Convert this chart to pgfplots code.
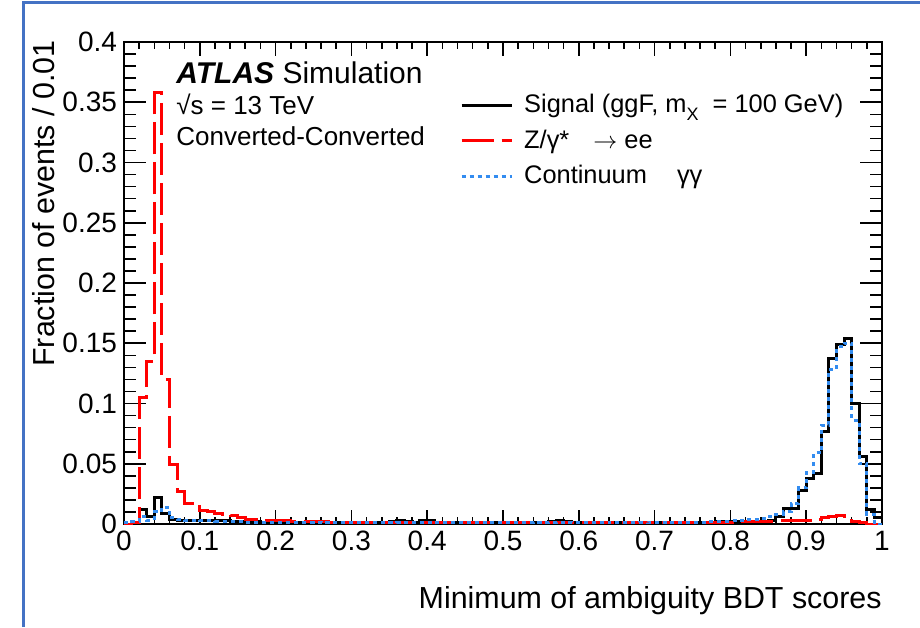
\documentclass[border=0pt]{standalone}
\usepackage{fontspec}
\setmainfont{Liberation Sans}
\usepackage{pgfplots}
\usepackage{pgfplotstable}
\pgfplotsset{compat=1.18}
\definecolor{frameblue}{RGB}{68,114,196}
\definecolor{contblue}{RGB}{51,140,240}

\pgfplotstableread{
x sig zee cont
0.00 0.000 0.000 0.001
0.01 0.001 0.001 0.002
0.02 0.012 0.105 0.006
0.03 0.006 0.135 0.003
0.04 0.022 0.358 0.010
0.05 0.009 0.120 0.014
0.06 0.004 0.049 0.005
0.07 0.003 0.027 0.004
0.08 0.003 0.017 0.003
0.09 0.003 0.017 0.003
0.10 0.003 0.011 0.0025
0.11 0.003 0.010 0.0025
0.12 0.0025 0.009 0.002
0.13 0.0025 0.008 0.002
0.14 0.002 0.007 0.002
0.15 0.002 0.005 0.002
0.16 0.002 0.004 0.0015
0.17 0.002 0.004 0.0015
0.18 0.0015 0.003 0.0015
0.19 0.0015 0.003 0.0015
0.20 0.0015 0.0025 0.0015
0.21 0.0015 0.0025 0.0012
0.22 0.0012 0.002 0.0012
0.23 0.0012 0.002 0.0012
0.24 0.0012 0.002 0.0012
0.25 0.0012 0.0018 0.0012
0.26 0.001 0.0018 0.001
0.27 0.0012 0.0016 0.001
0.28 0.001 0.0016 0.001
0.29 0.001 0.0015 0.001
0.30 0.001 0.0015 0.001
0.31 0.0012 0.0014 0.001
0.32 0.001 0.0014 0.001
0.33 0.001 0.0013 0.001
0.34 0.0012 0.0013 0.001
0.35 0.002 0.0012 0.0012
0.36 0.003 0.0012 0.0015
0.37 0.002 0.0012 0.0012
0.38 0.0015 0.0012 0.001
0.39 0.0025 0.0011 0.0012
0.40 0.0025 0.0011 0.0015
0.41 0.0015 0.0011 0.0012
0.42 0.0012 0.001 0.001
0.43 0.001 0.001 0.001
0.44 0.0012 0.001 0.001
0.45 0.001 0.001 0.0012
0.46 0.0012 0.001 0.001
0.47 0.001 0.001 0.001
0.48 0.0015 0.001 0.0012
0.49 0.001 0.001 0.001
0.50 0.0012 0.001 0.001
0.51 0.001 0.001 0.0012
0.52 0.0012 0.001 0.001
0.53 0.001 0.001 0.001
0.54 0.0012 0.001 0.0012
0.55 0.0015 0.001 0.001
0.56 0.0022 0.001 0.0012
0.57 0.0025 0.001 0.0015
0.58 0.002 0.001 0.0012
0.59 0.001 0.001 0.001
0.60 0.001 0.001 0.001
0.61 0.0008 0.001 0.001
0.62 0.0005 0.001 0.001
0.63 0.0005 0.001 0.0012
0.64 0.001 0.001 0.001
0.65 0.001 0.001 0.001
0.66 0.001 0.001 0.001
0.67 0.0012 0.001 0.001
0.68 0.001 0.001 0.0012
0.69 0.001 0.001 0.001
0.70 0.0012 0.001 0.001
0.71 0.001 0.001 0.0012
0.72 0.001 0.001 0.001
0.73 0.0012 0.001 0.0012
0.74 0.0012 0.001 0.0012
0.75 0.0012 0.001 0.0015
0.76 0.0015 0.001 0.0015
0.77 0.0015 0.0012 0.0018
0.78 0.0018 0.0012 0.002
0.79 0.002 0.0015 0.0022
0.80 0.002 0.0015 0.0025
0.81 0.002 0.0018 0.003
0.82 0.002 0.002 0.0035
0.83 0.0022 0.002 0.004
0.84 0.002 0.002 0.0045
0.85 0.003 0.0022 0.006
0.86 0.006 0.0025 0.008
0.87 0.0125 0.0025 0.010
0.88 0.0125 0.0025 0.017
0.89 0.028 0.003 0.030
0.90 0.038 0.003 0.043
0.91 0.042 0.004 0.059
0.92 0.077 0.005 0.082
0.93 0.137 0.006 0.128
0.94 0.149 0.007 0.147
0.95 0.154 0.006 0.150
0.96 0.100 0.002 0.086
0.97 0.056 0.001 0.050
0.98 0.012 0.000 0.008
0.99 0.005 0.000 0.000
1.00 0.005 0.000 0.000
}\hist

\begin{document}
\begin{tikzpicture}[x=1pt,y=1pt]
\path[use as bounding box] (0,0) rectangle (460,313.5);
\draw[frameblue, line width=1.5pt] (11.5,0) -- (11.5,312) -- (460,312);
\begin{axis}[
  at={(62pt,51.5pt)}, anchor=south west,
  scale only axis, width=379pt, height=241pt,
  xmin=0, xmax=1, ymin=0, ymax=0.4,
  xtick={0,0.1,0.2,0.3,0.4,0.5,0.6,0.7,0.8,0.9,1},
  ytick={0,0.05,0.1,0.15,0.2,0.25,0.3,0.35,0.4},
  minor x tick num=4, minor y tick num=4,
  tick align=inside, xtick pos=both, ytick pos=both,
  xticklabel pos=left, yticklabel pos=left,
  major tick length=11pt, minor tick length=6pt,
  xtick style={/pgfplots/major tick length=7pt,/pgfplots/minor tick length=3.5pt},
  every tick/.style={black, line width=0.8pt},
  axis line style={line width=1pt},
  /pgf/number format/.cd, fixed, precision=2, assume math mode=true,
  /pgfplots/.cd,
  tick label style={font=\fontsize{14}{16}\selectfont},
  xlabel={Minimum of ambiguity BDT scores},
  ylabel={Fraction of events / 0.01},
  label style={font=\fontsize{15.2}{17}\selectfont},
  xlabel style={at={(axis description cs:1,-0.128)}, anchor=north east, inner sep=0pt},
  ylabel style={at={(axis description cs:-0.091,1.004)}, anchor=south east, inner sep=0pt},
  legend style={at={(axis description cs:0.443,0.896)}, anchor=north west,
    draw=none, fill=none, inner sep=0pt, row sep=5pt,
    font=\fontsize{12.7}{15}\selectfont, nodes={inner sep=1pt},
    /tikz/every odd column/.append style={column sep=4.5pt}},
  legend cell align=left,
  legend image code/.code={\draw[#1] (0pt,0pt) -- (25pt,0pt);},
]
\addplot[black, line width=1.5pt, const plot mark left, mark=none] table[x=x,y=sig]{\hist};
\addlegendentry{Signal (ggF, m\raisebox{-0.55ex}{\fontsize{9}{9}\selectfont X}\ \ = 100 GeV)}
\addplot[red, line width=1.5pt, dash pattern=on 16pt off 4pt, const plot mark left, mark=none] table[x=x,y=zee]{\hist};
\addlegendentry{Z/γ*\hspace{12pt}$\rightarrow$ ee}
\addplot[contblue, line width=1.5pt, dash pattern=on 2pt off 2pt, const plot mark left, mark=none] table[x=x,y=cont]{\hist};
\addlegendentry{Continuum\hspace{15pt}γγ}
\node[anchor=base west, inner sep=0pt, font=\fontsize{15}{17}\selectfont] at (axis description cs:0.0686,0.913) {\textbf{\textit{ATLAS}} Simulation};
\node[anchor=base west, inner sep=0pt, font=\fontsize{13}{15}\selectfont] at (axis description cs:0.0686,0.849) {√s = 13 TeV};
\node[anchor=base west, inner sep=0pt, font=\fontsize{13}{15}\selectfont] at (axis description cs:0.0686,0.786) {Converted-Converted};
\end{axis}
\end{tikzpicture}
\end{document}
